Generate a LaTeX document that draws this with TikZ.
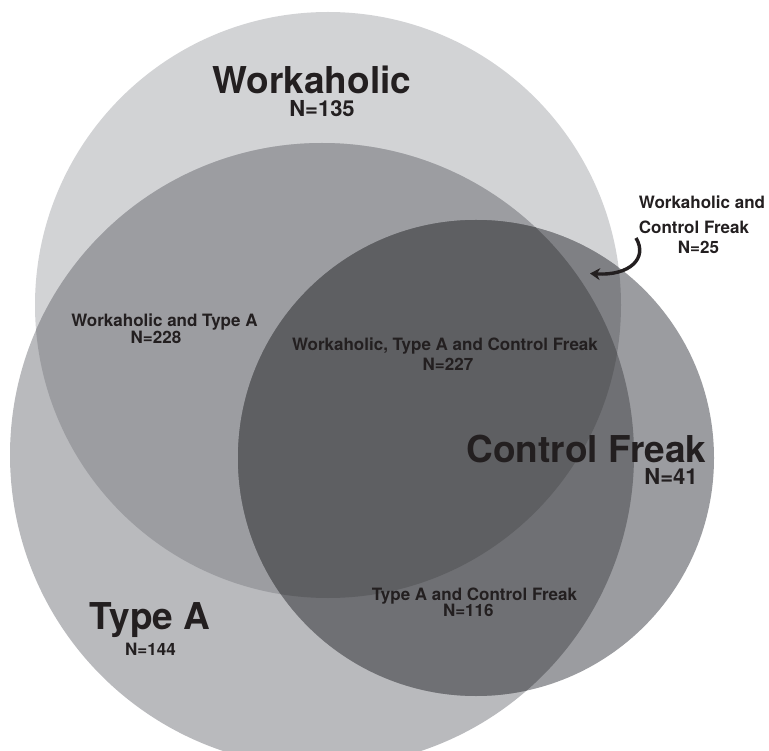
\documentclass[tikz,border=0pt]{standalone}
\usepackage{fontspec}
\setmainfont{TeX Gyre Heros}
\usetikzlibrary{arrows.meta}
\definecolor{cW}{HTML}{D2D3D5}
\definecolor{cT}{HTML}{B9BABD}
\definecolor{cWT}{HTML}{9C9DA1}
\definecolor{cC}{HTML}{9B9CA0}
\definecolor{cWC}{HTML}{7F8084}
\definecolor{cTC}{HTML}{6F7074}
\definecolor{cWTC}{HTML}{5E5F62}
\definecolor{ink}{HTML}{231F20}
\tikzset{
  big/.style={font=\bfseries\fontsize{37}{40}\selectfont, text=ink, anchor=base, inner sep=0pt, text depth=0pt},
  mid/.style={font=\bfseries\fontsize{22}{24}\selectfont, text=ink, anchor=base, inner sep=0pt, text depth=0pt, text height=16pt},
  small/.style={font=\bfseries\fontsize{17}{19}\selectfont, text=ink, anchor=base, inner sep=0pt, text depth=0pt, text height=12.5pt},
}
\begin{document}
\begin{tikzpicture}[x=1pt,y=-1pt]
\useasboundingbox (0,0) rectangle (769,751);
\clip (0,0) rectangle (769,751);
\def\cW{(328,305) circle (293)}
\def\cT{(322,455) circle (312)}
\def\cC{(476,458) circle (238)}
\fill[cW] \cW;
\fill[cT] \cT;
\begin{scope}\clip \cW; \fill[cWT] \cT; \end{scope}
\fill[cC] \cC;
\begin{scope}\clip \cC; \fill[cWC] \cW; \end{scope}
\begin{scope}\clip \cC; \fill[cTC] \cT; \end{scope}
\begin{scope}\clip \cC; \clip \cW; \fill[cWTC] \cT; \end{scope}

\node[big] (w) at (312,94) {Workaholic};
\node[mid] (wn) at (322,117) {N=135};
\node[small] (wt) at (164.5,326.5) {Workaholic and Type A};
\node[small] (wtn) at (156,344) {N=228};
\node[small] (wtc) at (445,350.5) {Workaholic, Type A and Control Freak};
\node[small] (wtcn) at (448,370.5) {N=227};
\node[big] (c) at (586.5,462) {Control Freak};
\node[mid] (cn) at (671,484.5) {N=41};
\node[big] (t) at (150,629) {Type A};
\node[small] (tn) at (150.5,655) {N=144};
\node[small] (tc) at (474.5,600.5) {Type A and Control Freak};
\node[small] (tcn) at (468.3,616) {N=116};
\node[small] (wc1) at (702,209) {Workaholic and};
\node[small] (wc2) at (694,234) {Control Freak};
\node[small] (wcn) at (698.5,254) {N=25};

\coordinate (a1) at (636,238);
\coordinate (a2) at (590,273.5);
\draw[line width=3.4pt, ink, -{Stealth[length=10pt,width=12pt]}]
  (a1) .. controls (648,258) and (630,276) .. (a2);
\end{tikzpicture}
\end{document}
